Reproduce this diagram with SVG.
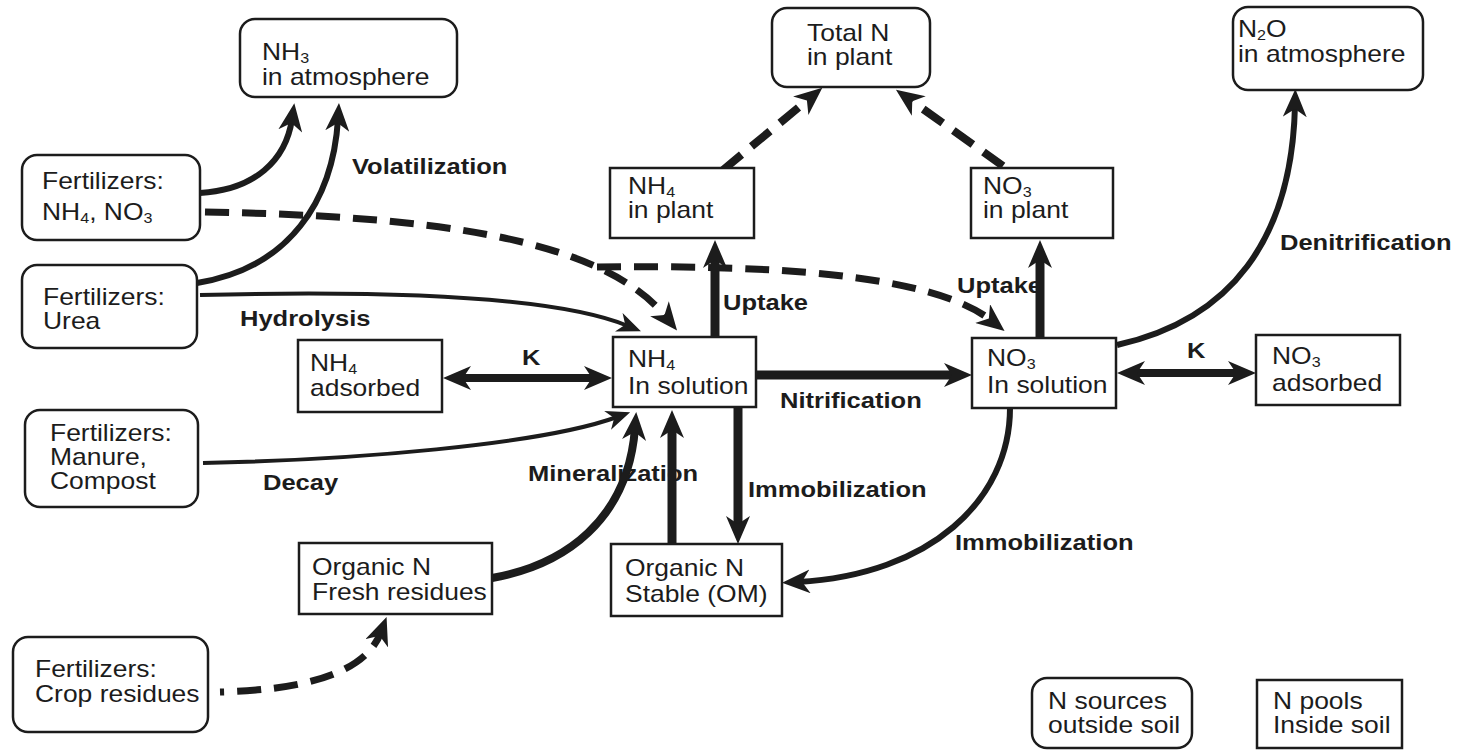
<svg xmlns="http://www.w3.org/2000/svg" width="1458" height="753" viewBox="0 0 1458 753">
<defs>
<style>
.t{font-family:"Liberation Sans",Arial,sans-serif;font-size:23px;fill:#1c1c1c}
.s{font-size:14px}
.b{font-family:"Liberation Sans",Arial,sans-serif;font-weight:bold;font-size:22px;fill:#1c1c1c}
.box{fill:#fff;stroke:#1c1c1c;stroke-width:2.5}
.c{fill:none;stroke:#1c1c1c}
.d{stroke-dasharray:24 13}
</style>
<marker id="ah" viewBox="0 0 28 24" markerWidth="28" markerHeight="24" refX="12" refY="12" orient="auto-start-reverse" markerUnits="userSpaceOnUse"><path d="M0,0 L28,12 L0,24 L8,12 Z" fill="#1c1c1c"/></marker>
<marker id="as" viewBox="0 0 24 20" markerWidth="24" markerHeight="20" refX="10" refY="10" orient="auto-start-reverse" markerUnits="userSpaceOnUse"><path d="M0,0 L24,10 L0,20 L7,10 Z" fill="#1c1c1c"/></marker>
</defs>
<rect width="1458" height="753" fill="#fff"/>

<g id="labels">
<text class="b" transform="translate(352,174) scale(1.16,1)">Volatilization</text>
<text class="b" transform="translate(240,326) scale(1.16,1)">Hydrolysis</text>
<text class="b" transform="translate(522,365) scale(1.16,1)">K</text>
<text class="b" transform="translate(723,310) scale(1.16,1)">Uptake</text>
<text class="b" transform="translate(957,293) scale(1.16,1)">Uptake</text>
<text class="b" transform="translate(1187,358) scale(1.16,1)">K</text>
<text class="b" transform="translate(780,408) scale(1.16,1)">Nitrification</text>
<text class="b" transform="translate(1280,250) scale(1.16,1)">Denitrification</text>
<text class="b" transform="translate(263,490) scale(1.16,1)">Decay</text>
<text class="b" transform="translate(528,481) scale(1.16,1)" fill="#333">Mineralization</text>
<text class="b" transform="translate(748,497) scale(1.16,1)">Immobilization</text>
<text class="b" transform="translate(955,550) scale(1.16,1)">Immobilization</text>
</g>

<g id="connectors">
<path class="c" stroke-width="6" d="M200,193 C255,190 286,160 292,119" marker-end="url(#ah)"/>
<path class="c" stroke-width="6" d="M197,283 C290,268 333,200 338,119" marker-end="url(#ah)"/>
<path class="c d" stroke-width="7" d="M205,212 C420,216 600,235 667,318" marker-end="url(#ah)"/>
<path class="c d" stroke-width="7" d="M597,267 C760,265 930,272 992,321" marker-end="url(#ah)"/>
<path class="c" stroke-width="4" d="M200,295 C400,290 560,298 628,326" marker-end="url(#as)"/>
<path class="c" stroke-width="4" d="M203,463 C350,460 540,445 617,417" marker-end="url(#as)"/>
<path class="c" stroke-width="8" d="M492,578 C565,565 628,520 635,428" marker-end="url(#ah)"/>
<path class="c" stroke-width="9" d="M672,544 V426" marker-end="url(#ah)"/>
<path class="c" stroke-width="9" d="M738,407 V528" marker-end="url(#ah)"/>
<path class="c" stroke-width="9" d="M715,337 V256" marker-end="url(#ah)"/>
<path class="c" stroke-width="9" d="M1040,338 V256" marker-end="url(#ah)"/>
<path class="c" stroke-width="8" d="M459,378 H596" marker-start="url(#ah)" marker-end="url(#ah)"/>
<path class="c" stroke-width="9" d="M756,375 H956" marker-end="url(#ah)"/>
<path class="c" stroke-width="8" d="M1133,373 H1240" marker-start="url(#ah)" marker-end="url(#ah)"/>
<path class="c" stroke-width="6" d="M1117,345 C1230,320 1292,240 1295,105" marker-end="url(#ah)"/>
<path class="c" stroke-width="6" d="M1010,408 C1010,500 930,575 798,582" marker-end="url(#ah)"/>
<path class="c d" stroke-width="7" stroke-dashoffset="20" d="M220,692 C300,690 365,675 381,632" marker-end="url(#ah)"/>
<path class="c d" stroke-width="8" d="M723,170 L810,98" marker-end="url(#ah)"/>
<path class="c d" stroke-width="8" d="M1003,166 L909,99" marker-end="url(#ah)"/>
</g>

<g id="nh3-atm">
<rect class="box" x="240" y="19" width="217" height="78" rx="15"/>
<text class="t" transform="translate(262,60) scale(1.15,1)">NH<tspan class="s" dy="3">3</tspan><tspan x="0" dy="22">in atmosphere</tspan></text>
</g>
<g id="total-n">
<rect class="box" x="772" y="8" width="158" height="79" rx="15"/>
<text class="t" transform="translate(807,41) scale(1.15,1)">Total N<tspan x="0" dy="24">in plant</tspan></text>
</g>
<g id="n2o-atm">
<rect class="box" x="1233" y="7" width="190" height="83" rx="15"/>
<text class="t" transform="translate(1238,37) scale(1.15,1)">N<tspan class="s" dy="3">2</tspan><tspan dy="-3">O</tspan><tspan x="0" dy="25">in atmosphere</tspan></text>
</g>
<g id="fert-nh4-no3">
<rect class="box" x="22" y="155" width="178" height="85" rx="15"/>
<text class="t" transform="translate(42,189) scale(1.15,1)">Fertilizers:<tspan x="0" dy="31">NH</tspan><tspan class="s" dy="3">4</tspan><tspan dy="-3">, NO</tspan><tspan class="s" dy="3">3</tspan></text>
</g>
<g id="nh4-plant">
<rect class="box" x="610" y="168" width="144" height="70"/>
<text class="t" transform="translate(628,194) scale(1.15,1)">NH<tspan class="s" dy="3">4</tspan><tspan x="0" dy="21">in plant</tspan></text>
</g>
<g id="no3-plant">
<rect class="box" x="971" y="168" width="142" height="70"/>
<text class="t" transform="translate(983,194) scale(1.15,1)">NO<tspan class="s" dy="3">3</tspan><tspan x="0" dy="21">in plant</tspan></text>
</g>
<g id="fert-urea">
<rect class="box" x="22" y="265" width="175" height="83" rx="15"/>
<text class="t" transform="translate(43,305) scale(1.15,1)">Fertilizers:<tspan x="0" dy="24">Urea</tspan></text>
</g>
<g id="nh4-adsorbed">
<rect class="box" x="298" y="340" width="144" height="72"/>
<text class="t" transform="translate(310,371) scale(1.15,1)">NH<tspan class="s" dy="3">4</tspan><tspan x="0" dy="22">adsorbed</tspan></text>
</g>
<g id="nh4-solution">
<rect class="box" x="613" y="337" width="143" height="70"/>
<text class="t" transform="translate(628,367) scale(1.15,1)">NH<tspan class="s" dy="3">4</tspan><tspan x="0" dy="24">In solution</tspan></text>
</g>
<g id="no3-solution">
<rect class="box" x="972" y="338" width="144" height="70"/>
<text class="t" transform="translate(987,366) scale(1.15,1)">NO<tspan class="s" dy="3">3</tspan><tspan x="0" dy="24">In solution</tspan></text>
</g>
<g id="no3-adsorbed">
<rect class="box" x="1256" y="335" width="144" height="70"/>
<text class="t" transform="translate(1272,364) scale(1.15,1)">NO<tspan class="s" dy="3">3</tspan><tspan x="0" dy="24">adsorbed</tspan></text>
</g>
<g id="fert-manure">
<rect class="box" x="25" y="410" width="173" height="97" rx="15"/>
<text class="t" transform="translate(50,441) scale(1.15,1)">Fertilizers:<tspan x="0" dy="24">Manure,</tspan><tspan x="0" dy="24">Compost</tspan></text>
</g>
<g id="organic-fresh">
<rect class="box" x="299" y="543" width="193" height="71"/>
<text class="t" transform="translate(312,575) scale(1.15,1)">Organic N<tspan x="0" dy="25">Fresh residues</tspan></text>
</g>
<g id="organic-stable">
<rect class="box" x="611" y="544" width="171" height="72"/>
<text class="t" transform="translate(625,576) scale(1.15,1)">Organic N<tspan x="0" dy="26">Stable (OM)</tspan></text>
</g>
<g id="fert-crop">
<rect class="box" x="13" y="637" width="195" height="95" rx="15"/>
<text class="t" transform="translate(35,677) scale(1.15,1)">Fertilizers:<tspan x="0" dy="25">Crop residues</tspan></text>
</g>
<g id="legend-sources">
<rect class="box" x="1032" y="678" width="160" height="70" rx="15"/>
<text class="t" transform="translate(1048,709) scale(1.15,1)">N sources<tspan x="0" dy="24">outside soil</tspan></text>
</g>
<g id="legend-pools">
<rect class="box" x="1257" y="680" width="145" height="68"/>
<text class="t" transform="translate(1273,709) scale(1.15,1)">N pools<tspan x="0" dy="24">Inside soil</tspan></text>
</g>
</svg>
